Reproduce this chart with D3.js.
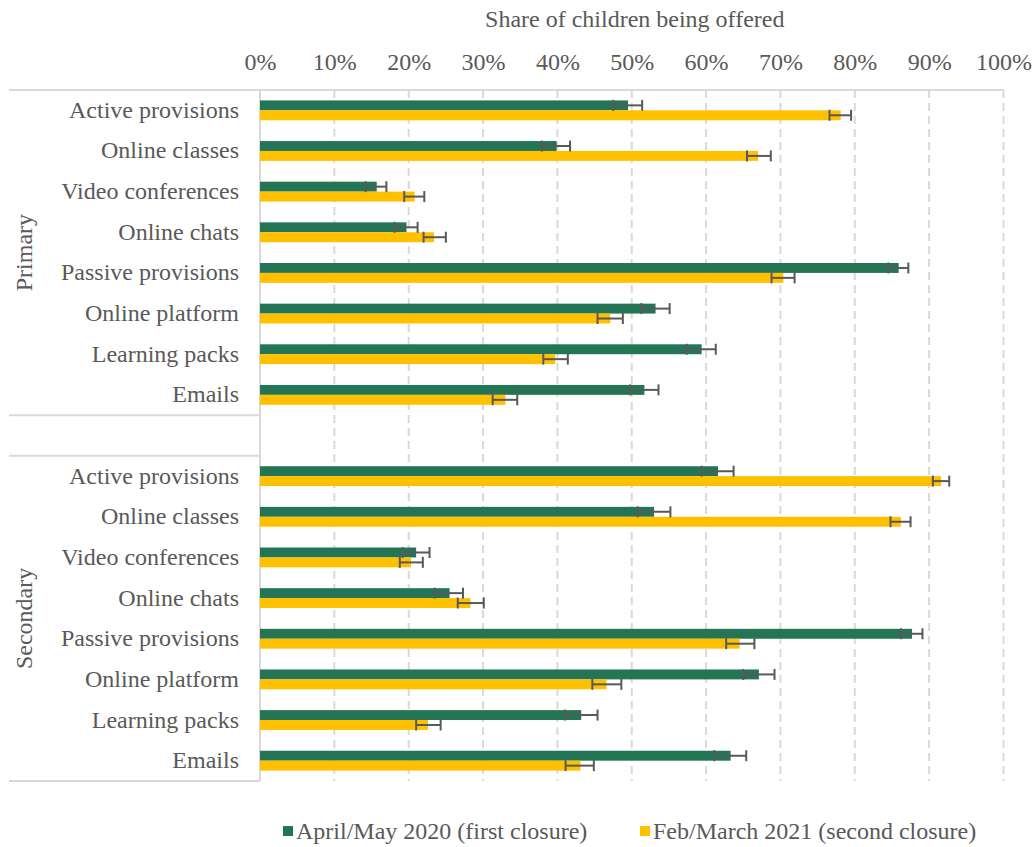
<!DOCTYPE html>
<html>
<head>
<meta charset="utf-8">
<script src="https://cdn.jsdelivr.net/npm/d3@7"></script>
<style>
  body { margin: 0; background: #fff; }
  svg { display: block; }
  svg text { font-family: "Liberation Serif", "Times New Roman", serif; }
</style>
</head>
<body>
<svg id="chart" width="1036" height="847"></svg>
<script>
// ---- data ----
const groups = ["Primary", "Secondary"];
const categories = ["Active provisions", "Online classes", "Video conferences", "Online chats",
  "Passive provisions", "Online platform", "Learning packs", "Emails"];
const seriesNames = ["April/May 2020 (first closure)", "Feb/March 2021 (second closure)"];

// Primary
const primaryFirst = [49.5, 39.9, 15.7, 19.7, 85.9, 53.2, 59.4, 51.7];
const primaryFirstLow = [47.5, 37.9, 14.2, 18.1, 84.5, 51.3, 57.4, 49.8];
const primaryFirstHigh = [51.4, 41.7, 17.0, 21.2, 87.2, 55.1, 61.3, 53.6];
const primarySecond = [78.1, 67.0, 20.8, 23.4, 70.4, 47.1, 39.7, 33.0];
const primarySecondLow = [76.6, 65.5, 19.4, 22.0, 68.8, 45.4, 38.1, 31.3];
const primarySecondHigh = [79.5, 68.7, 22.1, 25.0, 71.9, 48.8, 41.4, 34.6];

// Secondary
const secondaryFirst = [61.6, 53.0, 21.0, 25.5, 87.7, 67.1, 43.2, 63.3];
const secondaryFirstLow = [59.4, 50.8, 19.2, 23.5, 86.2, 65.0, 41.0, 61.1];
const secondaryFirstHigh = [63.7, 55.2, 22.8, 27.3, 89.1, 69.2, 45.4, 65.4];
const secondarySecond = [91.6, 86.2, 20.3, 28.3, 64.5, 46.6, 22.6, 43.1];
const secondarySecondLow = [90.5, 84.8, 18.8, 26.6, 62.7, 44.7, 21.0, 41.1];
const secondarySecondHigh = [92.7, 87.5, 21.9, 30.1, 66.5, 48.6, 24.3, 44.9];

const ticks = [0, 10, 20, 30, 40, 50, 60, 70, 80, 90, 100];
const colors = ["#237556", "#FFC000"];

(function () {
const svg = d3.select("#chart");
const mLeft = 260, mRight = 1003.5, mTop = 90, mBottom = 781;
const textColor = "#595959";
const fs = 24;
const ff = "Liberation Serif, Times New Roman, serif";

const rows = [];
categories.forEach((c, i) => rows.push({ key: "P" + i, group: 0, i }));
rows.push({ key: "gap", group: -1 });
categories.forEach((c, i) => rows.push({ key: "S" + i, group: 1, i }));

const x = d3.scaleLinear().domain([0, 100]).range([mLeft, mRight]);
const y = d3.scaleBand().domain(rows.map(r => r.key)).range([mTop, mBottom]).paddingInner(0).paddingOuter(0);
const inner = d3.scaleBand().domain([0, 1]).range([0, y.bandwidth()]).paddingOuter(1.05).paddingInner(0);

// gridlines
svg.append("g").selectAll("line").data(ticks.slice(1)).join("line")
  .attr("x1", d => x(d)).attr("x2", d => x(d))
  .attr("y1", mTop).attr("y2", mBottom)
  .attr("stroke", "#d9d9d9").attr("stroke-width", 2)
  .attr("stroke-dasharray", "8,5");

// frame lines
svg.append("line").attr("x1", 9).attr("x2", mRight).attr("y1", mTop).attr("y2", mTop)
  .attr("stroke", "#d9d9d9").attr("stroke-width", 2);
const sepYs = [y("gap"), y("gap") + y.bandwidth(), mBottom];
svg.append("g").selectAll("line").data(sepYs).join("line")
  .attr("x1", 9).attr("x2", mLeft).attr("y1", d => d).attr("y2", d => d)
  .attr("stroke", "#d9d9d9").attr("stroke-width", 2);
svg.append("line").attr("x1", mLeft).attr("x2", mLeft).attr("y1", mTop).attr("y2", mBottom)
  .attr("stroke", "#d9d9d9").attr("stroke-width", 2);

// tick labels
const axis = d3.axisTop(x).tickValues(ticks).tickFormat(d => d + "%").tickSize(0).tickPadding(0);
const ag = svg.append("g").attr("transform", `translate(0,${70})`).call(axis)
  .attr("font-family", ff).attr("font-size", fs);
ag.select(".domain").remove();
ag.selectAll("text").attr("fill", textColor);

// axis title
svg.append("text").attr("x", (mLeft + mRight) / 2 + 3).attr("y", 27)
  .attr("text-anchor", "middle").attr("font-size", fs).attr("fill", textColor)
  .text("Share of children being offered");

const groupData = [
  [[primaryFirst, primaryFirstLow, primaryFirstHigh], [primarySecond, primarySecondLow, primarySecondHigh]],
  [[secondaryFirst, secondaryFirstLow, secondaryFirstHigh], [secondarySecond, secondarySecondLow, secondarySecondHigh]]
];
const bars = [];
rows.filter(r => r.group >= 0).forEach(r => {
  [0, 1].forEach(s => {
    const arr = groupData[r.group][s];
    bars.push({ row: r.key, s, v: arr[0][r.i], lo: arr[1][r.i], hi: arr[2][r.i] });
  });
});

// bars
svg.append("g").selectAll("rect").data(bars).join("rect")
  .attr("x", x(0)).attr("width", d => x(d.v) - x(0))
  .attr("y", d => y(d.row) + inner(d.s)).attr("height", inner.bandwidth())
  .attr("fill", d => colors[d.s]);

// error bars
const eb = svg.append("g").attr("stroke", "#595959").attr("stroke-width", 2);
bars.forEach(d => {
  const cy = y(d.row) + inner(d.s) + inner.bandwidth() / 2;
  eb.append("line").attr("x1", x(d.lo)).attr("x2", x(d.hi)).attr("y1", cy).attr("y2", cy);
  [d.lo, d.hi].forEach(v => {
    eb.append("line").attr("x1", x(v)).attr("x2", x(v)).attr("y1", cy - 5.5).attr("y2", cy + 5.5);
  });
});

// category labels
svg.append("g").selectAll("text").data(rows.filter(r => r.group >= 0)).join("text")
  .attr("x", 239).attr("y", d => y(d.key) + y.bandwidth() / 2 + 7.5)
  .attr("text-anchor", "end").attr("font-size", fs).attr("fill", textColor)
  .text(d => categories[d.i]);

// group labels
groups.forEach((g, gi) => {
  const y0 = gi === 0 ? mTop : y("gap") + y.bandwidth();
  const y1 = gi === 0 ? y("gap") : mBottom;
  svg.append("text")
    .attr("transform", `translate(32,${(y0 + y1) / 2}) rotate(-90)`)
    .attr("text-anchor", "middle").attr("font-size", fs).attr("fill", textColor)
    .text(g);
});

// legend
const legendX = [283, 640];
seriesNames.forEach((n, i) => {
  const lg = svg.append("g").attr("transform", `translate(${legendX[i]},831)`);
  lg.append("rect").attr("x", 0).attr("y", -5).attr("width", 10).attr("height", 10).attr("fill", colors[i]);
  lg.append("text").attr("x", 13).attr("y", 8).attr("font-size", fs).attr("fill", textColor).text(n);
});
})();
</script>
</body>
</html>
